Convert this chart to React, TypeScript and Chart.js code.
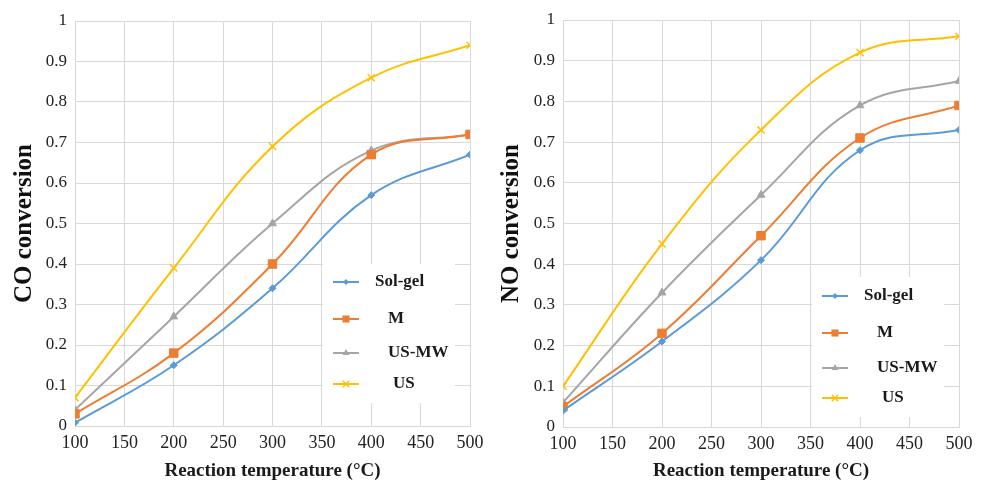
import React, { useEffect, useRef } from 'react';
import { Chart, registerables } from 'chart.js';

Chart.register(...registerables);

// ---------- data ----------
const temperatures = [100, 200, 300, 400, 500];
const seriesNames = ['Sol-gel', 'M', 'US-MW', 'US'];

const coSolGel = [0.008, 0.15, 0.34, 0.57, 0.67];
const coM = [0.03, 0.18, 0.40, 0.67, 0.72];
const coUSMW = [0.04, 0.27, 0.50, 0.68, 0.72];
const coUS = [0.07, 0.39, 0.69, 0.86, 0.94];

const noSolGel = [0.04, 0.21, 0.41, 0.68, 0.73];
const noM = [0.05, 0.23, 0.47, 0.71, 0.79];
const noUSMW = [0.06, 0.33, 0.57, 0.79, 0.85];
const noUS = [0.10, 0.45, 0.73, 0.92, 0.96];

const xMin = 100;
const xMax = 500;
const xStep = 50;
const yMin = 0;
const yMax = 1;
const yStep = 0.1;

const xTitle = 'Reaction temperature (°C)';
const coTitle = 'CO conversion';
const noTitle = 'NO conversion';

// ---------- styles ----------
const COLORS = ['#5B9BD5', '#ED7D31', '#A5A5A5', '#FFC000'];
const STYLES = ['rectRot', 'rect', 'triangle', 'crossRot'];
const RADII = [3.5, 6, 4.5, 5];
const LEGEND_RADII = [3, 5, 4, 4.5];
const LEGEND_TEXT_X = [52, 65, 65, 70];
const SERIF = '"Liberation Serif", "Times New Roman", serif';

type Panel = {
  title: string;
  values: number[][];
  width: number;
  yWidth: number;
  xHeight: number;
  padTop: number;
  padRight: number;
  titlePad: number;
  legendTop: number;
  legendHeight: number;
  legendRows: number[];
};

function drawMarker(ctx: CanvasRenderingContext2D, style: string, x: number, y: number, r: number, color: string) {
  ctx.save();
  ctx.fillStyle = color;
  ctx.strokeStyle = color;
  ctx.lineWidth = 1.5;
  ctx.beginPath();
  if (style === 'rectRot') {
    ctx.moveTo(x, y - r);
    ctx.lineTo(x + r, y);
    ctx.lineTo(x, y + r);
    ctx.lineTo(x - r, y);
    ctx.closePath();
    ctx.fill();
  } else if (style === 'rect') {
    const s = r * Math.SQRT1_2;
    ctx.rect(x - s, y - s, 2 * s, 2 * s);
    ctx.fill();
  } else if (style === 'triangle') {
    ctx.moveTo(x, y - r);
    ctx.lineTo(x + r * 0.866, y + r * 0.5);
    ctx.lineTo(x - r * 0.866, y + r * 0.5);
    ctx.closePath();
    ctx.fill();
  } else {
    const s = r * Math.SQRT1_2;
    ctx.moveTo(x - s, y - s);
    ctx.lineTo(x + s, y + s);
    ctx.moveTo(x + s, y - s);
    ctx.lineTo(x - s, y + s);
    ctx.stroke();
  }
  ctx.restore();
}

function ChartPanel({ panel }: { panel: Panel }) {
  const ref = useRef<HTMLCanvasElement | null>(null);

  useEffect(() => {
    if (!ref.current) return;
    const legendPlugin = {
      id: 'insideLegend',
      afterDatasetsDraw(chart: any) {
        const ctx: CanvasRenderingContext2D = chart.ctx;
        const ca = chart.chartArea;
        const bx = ca.right - 147;
        const by = ca.top + panel.legendTop;
        ctx.save();
        ctx.fillStyle = '#ffffff';
        ctx.fillRect(bx, by, 132, panel.legendHeight);
        seriesNames.forEach((name, i) => {
          const y = by + panel.legendRows[i];
          ctx.strokeStyle = COLORS[i];
          ctx.lineWidth = 2;
          ctx.beginPath();
          ctx.moveTo(bx + 10, y);
          ctx.lineTo(bx + 36, y);
          ctx.stroke();
          drawMarker(ctx, STYLES[i], bx + 23, y, LEGEND_RADII[i], COLORS[i]);
          ctx.fillStyle = '#1a1a1a';
          ctx.font = `bold 17px ${SERIF}`;
          ctx.textBaseline = 'middle';
          ctx.textAlign = 'left';
          ctx.fillText(name, bx + LEGEND_TEXT_X[i], y);
        });
        ctx.restore();
      },
    };

    const chart = new Chart(ref.current, {
      type: 'line',
      data: {
        datasets: seriesNames.map((name, i) => ({
          label: name,
          data: temperatures.map((t, k) => ({ x: t, y: panel.values[i][k] })),
          borderColor: COLORS[i],
          backgroundColor: COLORS[i],
          pointBackgroundColor: COLORS[i],
          pointBorderColor: COLORS[i],
          pointStyle: STYLES[i] as any,
          pointRadius: RADII[i],
          pointBorderWidth: i === 3 ? 1.5 : 1,
          borderWidth: 2,
          tension: 0.4,
          fill: false,
        })),
      },
      options: {
        responsive: false,
        animation: false,
        devicePixelRatio: 1,
        layout: { padding: { left: 0, top: panel.padTop, right: panel.padRight, bottom: 0 } },
        plugins: {
          legend: { display: false },
          tooltip: { enabled: false },
        },
        scales: {
          x: {
            type: 'linear',
            min: xMin,
            max: xMax,
            ticks: {
              stepSize: xStep,
              padding: 6,
              color: '#222',
              font: { family: SERIF, size: 18 },
            },
            grid: { color: '#d9d9d9', drawTicks: false, lineWidth: 1 },
            border: { color: '#d9d9d9' },
            title: {
              display: true,
              text: xTitle,
              color: '#1a1a1a',
              font: { family: SERIF, size: 19, weight: 'bold' },
              padding: { top: 0, bottom: 0 },
            },
            afterFit(scale: any) {
              scale.height = panel.xHeight;
            },
          },
          y: {
            type: 'linear',
            min: yMin,
            max: yMax,
            ticks: {
              stepSize: yStep,
              padding: 8,
              color: '#222',
              font: { family: SERIF, size: 17 },
              callback: (v: any) => String(Number(Number(v).toFixed(1))),
            },
            grid: { color: '#d9d9d9', drawTicks: false, lineWidth: 1 },
            border: { color: '#d9d9d9' },
            title: {
              display: true,
              text: panel.title,
              color: '#111',
              font: { family: SERIF, size: 25, weight: 'bold' },
              padding: { top: panel.titlePad, bottom: 0 },
            },
            afterFit(scale: any) {
              scale.width = panel.yWidth;
            },
          },
        },
      } as any,
      plugins: [
        {
          id: 'whiteBg',
          beforeDraw(chart: any) {
            const c = chart.ctx;
            c.save();
            c.fillStyle = '#fff';
            c.fillRect(0, 0, chart.width, chart.height);
            c.restore();
          },
        },
        legendPlugin,
      ],
    });
    return () => chart.destroy();
  }, [panel]);

  return <canvas ref={ref} width={panel.width} height={482} style={{ display: 'block' }} />;
}

const leftPanel: Panel = {
  title: coTitle,
  values: [coSolGel, coM, coUSMW, coUS],
  width: 492,
  yWidth: 75,
  xHeight: 56,
  padTop: 21,
  padRight: 22,
  titlePad: 10,
  legendTop: 243,
  legendHeight: 139,
  legendRows: [18, 55, 89, 120],
};

const rightPanel: Panel = {
  title: noTitle,
  values: [noSolGel, noM, noUSMW, noUS],
  width: 493,
  yWidth: 71,
  xHeight: 55,
  padTop: 20,
  padRight: 26,
  titlePad: 5,
  legendTop: 257,
  legendHeight: 140,
  legendRows: [19, 56, 91, 121],
};

export default function App() {
  return (
    <div
      style={{
        position: 'absolute',
        left: 0,
        top: 0,
        width: 985,
        height: 482,
        display: 'flex',
        background: '#fff',
      }}
    >
      <ChartPanel panel={leftPanel} />
      <ChartPanel panel={rightPanel} />
    </div>
  );
}
